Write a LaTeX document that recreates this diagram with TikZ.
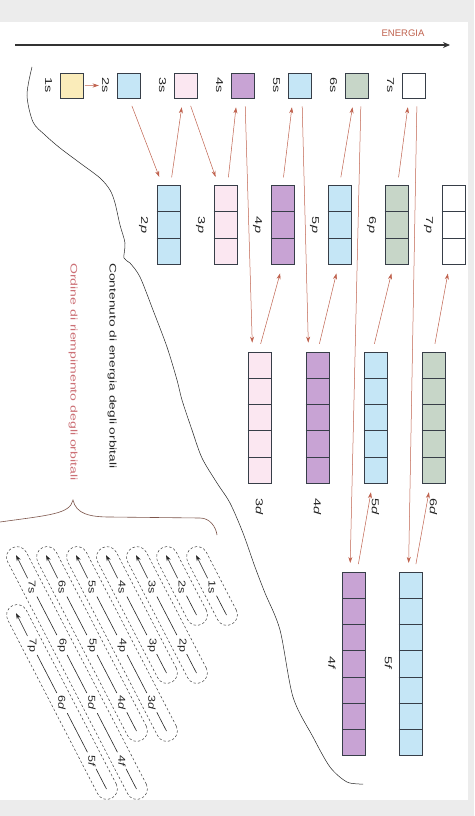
\documentclass[tikz,border=0pt]{standalone}
\usepackage{fontspec}
\setmainfont{Liberation Sans}
\usetikzlibrary{arrows.meta,calc}

\definecolor{rossiccio}{RGB}{192,98,78}
\definecolor{rosatesto}{RGB}{204,112,118}
\definecolor{graffa}{RGB}{125,85,75}
\definecolor{giallino}{RGB}{250,236,186}
\definecolor{azzurrino}{RGB}{197,230,246}
\definecolor{rosino}{RGB}{251,231,241}
\definecolor{violetto}{RGB}{200,163,212}
\definecolor{verdino}{RGB}{199,214,200}
\definecolor{grigiosfondo}{RGB}{236,236,236}
\definecolor{bordo}{RGB}{55,62,72}

\tikzset{
  orb/.style={draw=bordo, line width=0.75pt, minimum width=23pt, inner sep=0pt},
  etich/.style={rotate=-90, xscale=1.45, font=\fontsize{10}{11}\selectfont, inner sep=1pt, text=black!85},
  ordine/.style={draw=rossiccio, line width=0.5pt, -{Stealth[length=6pt,width=4pt]}, shorten >=9pt, shorten <=8pt},
  tetich/.style={rotate=-90, xscale=1.25, font=\fontsize{10}{11}\selectfont, inner sep=1.5pt, text=black!85},
  tlinea/.style={black!85, line width=0.6pt},
  tfreccia/.style={tlinea, -{Stealth[length=6pt,width=4pt]}},
  capsula/.style={draw=black!75, dash pattern=on 2.5pt off 2pt, line width=0.5pt, rounded corners=10.4pt, minimum height=21pt, inner sep=0pt},
}

\begin{document}
\begin{tikzpicture}[x=1pt, y=-1pt]

  \newcommand\passo{57};
  \newcommand\casella[5]{%
    \node[orb, fill=#5, minimum height=#4*26.2pt] (#1) at (#2,#3) {};
    \pgfmathtruncatemacro\ultimo{#4-1}
    \foreach \i in {1,...,\ultimo}
      \draw[bordo, line width=0.75pt] ($(#1.north west)!\i/#4!(#1.south west)$) -- ($(#1.north east)!\i/#4!(#1.south east)$);
  };

  % fondo
  \fill[grigiosfondo] (0,0) rectangle (474,816);
  \fill[white] (0,22) rectangle (468,800);
  \useasboundingbox (0,0) rectangle (474,816);

  % asse energia
  \coordinate (inizio) at (15,45);
  \coordinate (fine) at (450,45);
  \draw[line width=1.3pt, black!80, -{Stealth[length=7pt,width=6pt]}] (inizio) -- (fine);
  \node[text=rossiccio, font=\fontsize{9.5}{10}\selectfont] (energia) at (403,33) {ENERGIA};

  % orbitali s
  \foreach \n/\col in {1/giallino,2/azzurrino,3/rosino,4/violetto,5/azzurrino,6/verdino,7/white}{
    \node[orb, fill=\col, minimum height=25pt] (s\n) at ({72+\passo*(\n-1)},85.5) {};
    \node[etich] (ls\n) at ({48.5+\passo*(\n-1)},85.5) {\n s};
  }

  % orbitali p
  \foreach \n/\col in {2/azzurrino,3/rosino,4/violetto,5/azzurrino,6/verdino,7/white}{
    \casella{p\n}{{168.5+\passo*(\n-2)}}{225}{3}{\col}
    \node[etich] (lp\n) at ({143.5+\passo*(\n-2)},225) {\n\textit{p}};
  }

  % orbitali d
  \foreach \n/\col in {3/rosino,4/violetto,5/azzurrino,6/verdino}{
    \casella{d\n}{{259.5+58*(\n-3)}}{417.5}{5}{\col}
    \node[etich] (ld\n) at ({259.5+58*(\n-3)},507) {\n\textit{d}};
  }

  % orbitali f
  \foreach \n/\col in {4/violetto,5/azzurrino}{
    \casella{f\n}{{354+56.5*(\n-4)}}{664}{7}{\col}
    \node[etich] (lf\n) at ({332+56.5*(\n-4)},663) {\n\textit{f}};
  }

  % ordine di riempimento
  \draw[ordine, shorten >=2pt, shorten <=1pt] (s1) -- (ls2);
  \draw[ordine] (s2.south) -- ([xshift=-6pt]p2.north);
  \draw[ordine] ([xshift=2pt]p2.north) -- ([xshift=-3pt]s3.south);
  \draw[ordine] ([xshift=2pt]s3.south) -- ([xshift=-7pt]p3.north);
  \draw[ordine] ([xshift=2pt]p3.north) -- ([xshift=-6pt]s4.south);
  \draw[ordine] ([xshift=2pt]s4.south) -- ([xshift=-7pt]d3.north);
  \draw[ordine] ([xshift=-1pt]d3.north) -- (p4.south);
  \draw[ordine] (p4.north) -- ([xshift=-7pt]s5.south);
  \draw[ordine] ([xshift=2pt]s5.south) -- ([xshift=-9pt]d4.north);
  \draw[ordine] (d4.north) -- ([xshift=-1pt]p5.south);
  \draw[ordine] (p5.north) -- ([xshift=-3pt]s6.south);
  \draw[ordine] ([xshift=4pt]s6.south) -- ([xshift=-4pt]f4.north);
  \draw[ordine] ([xshift=3pt]f4.north) -- ([xshift=-3pt]d5.south);
  \draw[ordine] ([xshift=-3pt]d5.north) -- ([xshift=-3pt]p6.south);
  \draw[ordine] ([xshift=1pt]p6.north) -- ([xshift=-5pt]s7.south);
  \draw[ordine] ([xshift=3pt]s7.south) -- ([xshift=-2pt]f5.north);
  \draw[ordine] ([xshift=4pt]f5.north) -- ([xshift=-3pt]d6.south);
  \draw[ordine] (d6.north) -- ([xshift=-4pt]p7.south);

  % contenuto di energia
  \draw[black!85, line width=0.5pt] plot[smooth, tension=0.5] coordinates {(32,67) (27,95) (33,122) (45,135) (60,148) (80,163) (100,178) (110,190) (115,203) (120,225) (125,243) (124,258) (130,263) (140,277) (153,310) (167,347) (177,380) (182,400) (192,430) (202,458) (217,483) (230,503) (243,533) (255,567) (265,593) (280,630) (293,697) (313,737) (330,767) (347,782) (363,784)};
  \node[rotate=-90, xscale=1.45, font=\fontsize{9.5}{10}\selectfont, text=black!85] (contenuto) at (112,366) {Contenuto di energia degli orbitali};
  \node[rotate=-90, xscale=1.48, font=\fontsize{9.5}{10}\selectfont, text=rosatesto] (riempimento) at (73,372) {Ordine di riempimento degli orbitali};

  % graffa
  \draw[graffa, line width=0.6pt] (0,522) .. controls (50,515) and (70,514) .. (73,500) .. controls (76,514) and (90,517) .. (110,517) -- (200,518) .. controls (210,518) and (216,527) .. (217,535);

  % schema diagonale
  \foreach \nt/\lt/\m in {1/0/0,2/0/0,3/0/1,4/0/1,5/0/2,6/0/2,7/0/3,7/1/2}
    \node[capsula, rotate=-62.65, minimum width={65.3*\m+86}] (c\nt\lt) at ({242-30*\nt+15*\m},{587+58*\lt+29*\m-1}) {};
  \foreach \l/\nome/\lett/\na/\nb in {0/s/s/1/7,1/p/p/2/7,2/d/\textit{d}/3/6,3/f/\textit{f}/4/5}
    \foreach \n in {\na,...,\nb}
      \node[tetich] (t\n\nome) at ({242-30*\n},{587+58*\l}) {\n\lett};
  \foreach \a/\b in {3s/2p,4s/3p,5s/4p,4p/3d,6s/5p,5p/4d,7s/6p,6p/5d,5d/4f,7p/6d,6d/5f}
    \draw[tlinea, shorten <=1pt, shorten >=1pt] (t\a) -- (t\b);
  \foreach \a in {1s,2s,3s,4s,5s,6s,7s,7p}
    \draw[tfreccia] (t\a) -- ($(t\a)+(-16,-32)$);
  \foreach \a in {1s,2s,2p,3p,3d,4d,4f,5f}
    \draw[tlinea] (t\a) -- ($(t\a)+(14.5,28)$);

\end{tikzpicture}
\end{document}
